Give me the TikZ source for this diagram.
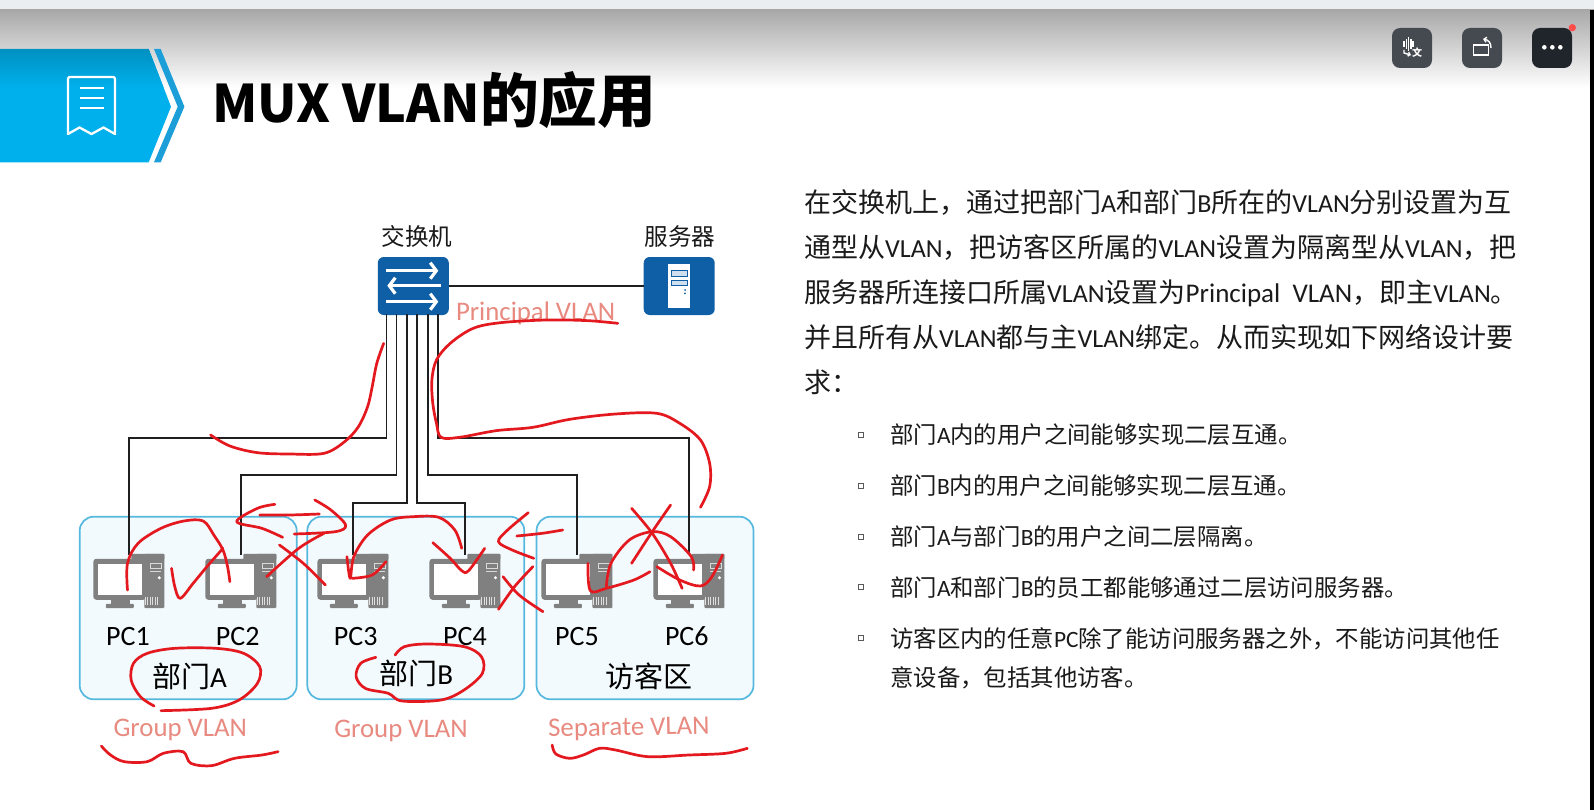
\documentclass[tikz,border=0pt]{standalone}
\usepackage{fontspec}
\setmainfont{Noto Sans CJK SC}
\newfontfamily\latf{Carlito}
\newfontfamily\latb[Scale=0.963]{Carlito}
\usetikzlibrary{arrows.meta}
\newcommand\fs[1]{\fontsize{#1}{#1}\selectfont}
\newcommand\lt[1]{{\latf #1}}
\newcommand\lb[1]{{\latb #1}}
\definecolor{inkred}{HTML}{E3191F}
\definecolor{salmon}{HTML}{E88A80}
\definecolor{devblue}{HTML}{0F5FA6}
\definecolor{zonefill}{HTML}{F2FAFD}
\definecolor{zoneline}{HTML}{55B8DE}
\definecolor{pcgray}{HTML}{808080}
\definecolor{bannercyan}{HTML}{00B0EC}
\definecolor{chevblue}{HTML}{1C9ED9}
\definecolor{btn}{HTML}{454A50}
\definecolor{btndark}{HTML}{1F252B}
\definecolor{bodytext}{HTML}{1A1A1A}
\definecolor{topstrip}{HTML}{EAEEF1}
\definecolor{notifred}{HTML}{FF4D4D}
\tikzset{
  inkline/.style={draw=inkred,line width=2.7pt,line cap=round,line join=round},
  link/.style={draw=black!88,line width=1.8pt},
  zone/.style={draw=zoneline,fill=zonefill,line width=1.7pt,rounded corners=14pt,minimum width=217pt,minimum height=182.6pt,inner sep=0pt},
  pcbox/.style={minimum width=70.7pt,minimum height=53.5pt,inner sep=0pt},
  device/.style={fill=devblue,rounded corners=6pt,minimum width=71pt,minimum height=58pt,inner sep=0pt},
  bodyline/.style={anchor=base west,inner sep=0pt,text=bodytext,font=\fs{27}},
  bulletline/.style={anchor=base west,inner sep=0pt,text=bodytext,font=\fs{23.4}},
  bulletmark/.style={draw=black!65,line width=.9pt,fill=white,minimum size=5pt,inner sep=0pt},
  pclabel/.style={anchor=base,inner sep=0pt,text=black,font=\latf\fs{28}},
  zonelabel/.style={anchor=base,inner sep=0pt,text=black,font=\fs{29}},
  devlabel/.style={anchor=base,inner sep=0pt,text=black!90,font=\fs{23.6}},
  vlanlabel/.style={anchor=base,inner sep=0pt,text=salmon,font=\latf\fs{26.8}},
  button/.style={rounded corners=8pt,minimum size=40pt,inner sep=0pt},
  whitearrow/.style={draw=white,line width=3.2pt,-{Straight Barb[length=6pt,width=16pt,line width=3.2pt]}},
  zoomA/.style={shift={(60,200)},x=.4591pt,y=-.33333pt},
  zoomB/.style={shift={(60,500)},x=.4591pt,y=-.33333pt}
}
\newcommand\pcicon[1]{%
  \begin{scope}[shift={(#1.north west)}]
    \fill[pcgray,rounded corners=1pt] (51,-1) rectangle (71,53.3);
    \fill[pcgray,rounded corners=1pt] (38,-1) rectangle (71,5);
    \fill[pcgray,rounded corners=3pt] (0,4) rectangle (53,45);
    \fill[white] (4.8,9) rectangle (48.2,40);
    \fill[pcgray] (18,45) rectangle (36.5,49);
    \fill[pcgray,rounded corners=1pt] (12.5,49) rectangle (40.5,53.3);
    \draw[white!70!pcgray,line width=.8pt] (57,8.5) rectangle (68,14);
    \draw[white!70!pcgray,line width=.8pt] (57,17) -- (68,17);
    \fill[white] (66,23) circle (1.7);
    \foreach \v in {52,54.5,57,59.5,62,64.5}{\draw[white!75!pcgray,line width=.8pt] (\v,42) -- (\v,50);}
  \end{scope}}
\begin{document}
\begin{tikzpicture}[x=1pt,y=-1pt]
\useasboundingbox (0,0) rectangle (1594,810);
\fill[white] (0,0) rectangle (1594,810);
% top bar
\fill[topstrip] (0,0) rectangle (1594,10);
\shade[top color=black!34,bottom color=white] (0,10) rectangle (1594,88);
\fill[black] (1590,10) rectangle (1594,810);
% banner
\begin{scope}
  \clip (0,49) -- (148.7,49) -- (171,106.7) -- (148.7,162.3) -- (0,162.3) -- cycle;
  \fill[bannercyan] (0,49) rectangle (172,163);
  \shade[top color=bannercyan!82!black,bottom color=bannercyan] (0,49) rectangle (172,88);
\end{scope}
\fill[chevblue] (154,49) -- (160.7,49) -- (184.4,106.7) -- (160.7,162.3) -- (154,162.3) -- (177.7,106.7) -- cycle;
\draw[white,line width=2.3pt,line join=round] (68,134) -- (68,79) .. controls (68,77.5) and (69,77) .. (70,77) -- (113,77) .. controls (114,77) and (115,77.5) .. (115,79) -- (115,134) -- (103.5,127.5) -- (91.5,134) -- (79.5,127.5) -- cycle;
\foreach \v in {88.3,98.3,108.3}{\draw[white,line width=2.3pt] (79.5,\v) -- (103.5,\v);}
\node[anchor=base west,inner sep=0pt,text=black] (title) at (212,122.3) {\bfseries\fs{51.8}MUX VLAN\fs{58.7}的应用};
% buttons
\node[button,fill=btn] (bt1) at (1412,48) {};
\node[button,fill=btn] (bt2) at (1482,48) {};
\node[button,fill=btndark] (bt3) at (1552,48) {};
\fill[notifred] (1572.3,27.7) circle (3.7);
\foreach \v/\h in {1404/3,1406.3/5,1408.6/7,1410.9/5,1413.2/3}{\draw[white,line width=1.5pt] (\v,44.5-\h) -- (\v,44.5+\h);}
\draw[white,line width=1.4pt,-{Straight Barb[length=2pt,width=4pt]}] (1404,50) -- (1404,53) -- (1411,55);
\node[inner sep=0pt,text=white] (bt1t) at (1417,52.5) {\bfseries\fs{10}文};
\draw[white,line width=1.4pt] (1473.3,45) rectangle (1488.3,55);
\draw[white,line width=1.4pt,-{Straight Barb[length=2.5pt,width=5pt]}] (1491,48) .. controls (1491,42) and (1488,40) .. (1483,39);
\foreach \v in {1544.3,1552.3,1560.3}{\fill[white] (\v,47.3) circle (2.3);}
% zones
\node[zone] (zoneA) at (188.2,608) {};
\node[zone] (zoneB) at (415.8,608) {};
\node[zone] (zoneC) at (645,608) {};
% devices
\node[device] (sw) at (413.3,286) {};
\node[device] (srv) at (679.2,286) {};
\draw[whitearrow] (386,270.7) -- (438.3,270.7);
\draw[whitearrow] (440.7,285.7) -- (387.3,285.7);
\draw[whitearrow] (386,301.7) -- (438.3,301.7);
\fill[white] (668.3,264) rectangle (690,308.3);
\draw[devblue,fill=white!80!devblue,line width=.9pt] (671,270.7) rectangle (687.3,276);
\draw[devblue,fill=white!80!devblue,line width=.9pt] (671,280) rectangle (687.3,285.3);
\fill[devblue] (685,290) circle (1) (685,293.3) circle (1);
\node[devlabel] (swl) at (417,245.7) {交换机};
\node[devlabel] (srvl) at (680,245.7) {服务器};
% PCs
\node[pcbox] (pc1) at (128.85,581.7) {};
\node[pcbox] (pc2) at (240.85,581.7) {};
\node[pcbox] (pc3) at (352.95,581.7) {};
\node[pcbox] (pc4) at (465,581.7) {};
\node[pcbox] (pc5) at (577,581.7) {};
\node[pcbox] (pc6) at (689,581.7) {};
\foreach \p in {pc1,pc2,pc3,pc4,pc5,pc6}{\pcicon{\p}}
% connectors
\coordinate (s1) at (386.4,314); \coordinate (s2) at (396.5,314); \coordinate (s3) at (407,314);
\coordinate (s4) at (417.2,314); \coordinate (s5) at (427.8,314); \coordinate (s6) at (438.3,314);
\coordinate (e1) at (128.85,437.7); \coordinate (e2) at (240.85,474.7); \coordinate (e3) at (352.95,502.7);
\coordinate (e4) at (465,502.7); \coordinate (e5) at (577,474.7); \coordinate (e6) at (689,437.7);
\draw[link] (sw.east) -- (srv.west);
\draw[link] (s1) |- (e1) -- (pc1.north);
\draw[link] (s2) |- (e2) -- (pc2.north);
\draw[link] (s3) |- (e3) -- (pc3.north);
\draw[link] (s4) |- (e4) -- (pc4.north);
\draw[link] (s5) |- (e5) -- (pc5.north);
\draw[link] (s6) |- (e6) -- (pc6.north);
% labels
\node[pclabel] (l1) at (128,645.7) {PC1};
\node[pclabel] (l2) at (237.7,645.7) {PC2};
\node[pclabel] (l3) at (355.7,645.7) {PC3};
\node[pclabel] (l4) at (465,645.7) {PC4};
\node[pclabel] (l5) at (577,645.7) {PC5};
\node[pclabel] (l6) at (686.8,645.7) {PC6};
\node[zonelabel] (za) at (189.5,687) {部门\lt{A}};
\node[zonelabel] (zb) at (416.3,684.3) {部门\lt{B}};
\node[zonelabel] (zc) at (649,687.3) {访客区};
\node[vlanlabel] (v1) at (180.3,736) {Group VLAN};
\node[vlanlabel] (v2) at (401,737.3) {Group VLAN};
\node[vlanlabel,rotate=1] (v3) at (629,735.5) {Separate VLAN};
\node[vlanlabel,anchor=base west] (v0) at (455.8,320) {Principal VLAN};
% body text
\node[bodyline] (t1) at (804,212.4) {在交换机上，通过把部门\lb{A}和部门\lb{B}所在的\lb{VLAN}分别设置为互};
\node[bodyline] (t2) at (804,257.4) {通型从\lb{VLAN}，把访客区所属的\lb{VLAN}设置为隔离型从\lb{VLAN}，把};
\node[bodyline] (t3) at (804,302.4) {服务器所连接口所属\lb{VLAN}设置为\lt{Principal\ \ VLAN}，即主\lb{VLAN}。};
\node[bodyline] (t4) at (804,347.4) {并且所有从\lb{VLAN}都与主\lb{VLAN}绑定。从而实现如下网络设计要};
\node[bodyline] (t5) at (804,392.4) {求：};
\node[bulletmark] (b1) at (861,435) {};
\node[bulletmark] (b2) at (861,485.7) {};
\node[bulletmark] (b3) at (861,536.7) {};
\node[bulletmark] (b4) at (861,587.3) {};
\node[bulletmark] (b5) at (861,638.3) {};
\node[bulletline] (u1) at (890,443.9) {部门\lt{A}内的用户之间能够实现二层互通。};
\node[bulletline] (u2) at (890,494.6) {部门\lt{B}内的用户之间能够实现二层互通。};
\node[bulletline] (u3) at (890,545.6) {部门\lt{A}与部门\lt{B}的用户之间二层隔离。};
\node[bulletline] (u4) at (890,596.2) {部门\lt{A}和部门\lt{B}的员工都能够通过二层访问服务器。};
\node[bulletline] (u5) at (890,647.2) {访客区内的任意\lt{PC}除了能访问服务器之外，不能访问其他任};
\node[bulletline] (u6) at (890,686.2) {意设备，包括其他访客。};
% ink
\begin{scope}[zoomA]
\draw[inkline] plot[smooth,tension=.55] coordinates {(705,430)(690,490)(680,560)(670,620)(650,680)(620,725)(575,760)(500,762)(430,758)(370,738)(328,705)};
\draw[inkline] plot[smooth,tension=.55] coordinates {(1215,370)(1150,362)(1060,360)(960,368)(900,385)(850,430)(820,480)(810,540)(812,610)(820,670)(830,712)(870,712)(950,692)(1030,682)(1110,658)(1210,642)(1300,640)(1350,670)(1395,720)(1415,790)(1415,860)(1395,922)};
\end{scope}
\begin{scope}[zoomB]
\draw[inkline] plot[smooth,tension=.55] coordinates {(147,270)(147,190)(170,130)(220,85)(270,63)(312,63)(335,105)(355,150)(365,200)(370,245)};
\draw[inkline] plot[smooth,tension=.55] coordinates {(243,205)(250,260)(262,295)(290,250)(320,200)(355,145)};
\draw[inkline] plot[smooth,tension=.55] coordinates {(468,13)(430,25)(385,65)(440,85)(485,112)};
\draw[inkline] plot[smooth,tension=.55] coordinates {(435,45)(500,45)(565,42)};
\draw[inkline] plot[smooth,tension=.55] coordinates {(555,0)(590,30)(622,75)(600,95)(510,102)};
\draw[inkline] plot[smooth,tension=.55] coordinates {(575,100)(520,145)(450,230)};
\draw[inkline] plot[smooth,tension=.55] coordinates {(478,135)(530,190)(578,255)};
\draw[inkline] plot[smooth,tension=.55] coordinates {(625,170)(632,235)(640,170)(670,105)(720,60)(770,50)(825,52)(860,90)(875,145)};
\draw[inkline] plot[smooth,tension=.55] coordinates {(636,235)(680,225)(710,185)};
\draw[inkline] plot[smooth,tension=.55] coordinates {(812,128)(850,175)(875,212)(890,212)(925,145)};
\draw[inkline] plot[smooth,tension=.55] coordinates {(1020,38)(975,90)(955,125)(985,150)(1032,175)};
\draw[inkline] plot[smooth,tension=.55] coordinates {(995,108)(1050,100)(1095,90)};
\draw[inkline] plot[smooth,tension=.55] coordinates {(1030,200)(990,260)(955,328)};
\draw[inkline] plot[smooth,tension=.55] coordinates {(965,230)(1000,285)(1052,335)};
\draw[inkline] plot[smooth,tension=.55] coordinates {(1150,190)(1155,272)(1190,265)(1250,240)(1285,215)};
\draw[inkline] plot[smooth,tension=.55] coordinates {(1190,260)(1200,190)(1240,120)(1290,95)(1330,110)(1375,170)(1380,210)};
\draw[inkline] plot[smooth,tension=.55] coordinates {(1245,25)(1290,100)(1330,190)(1355,265)};
\draw[inkline] plot[smooth,tension=.55] coordinates {(1330,15)(1290,95)(1245,190)};
\draw[inkline] plot[smooth,tension=.55] coordinates {(1300,200)(1350,240)(1395,258)(1420,230)(1443,165)};
\draw[inkline] plot[smooth,tension=.55] coordinates {(205,618)(175,590)(155,540)(160,490)(190,460)(250,445)(340,445)(400,460)(435,500)(430,550)(390,600)(330,625)(220,632)};
\draw[inkline] plot[smooth,tension=.55] coordinates {(688,472)(655,490)(645,530)(665,565)(715,580)(745,603)(830,600)(880,570)(920,520)(918,470)(880,440)(800,432)(750,440)(730,465)};
\draw[inkline] plot[smooth,tension=.55] coordinates {(90,738)(110,765)(140,785)(190,785)(225,760)(268,755)(285,790)(330,797)(380,775)(440,765)(475,755)};
\draw[inkline] plot[smooth,tension=.55] coordinates {(1072,735)(1080,762)(1110,775)(1140,765)(1175,745)(1210,750)(1280,770)(1370,765)(1450,760)(1497,745)};
\end{scope}
\end{tikzpicture}
\end{document}
